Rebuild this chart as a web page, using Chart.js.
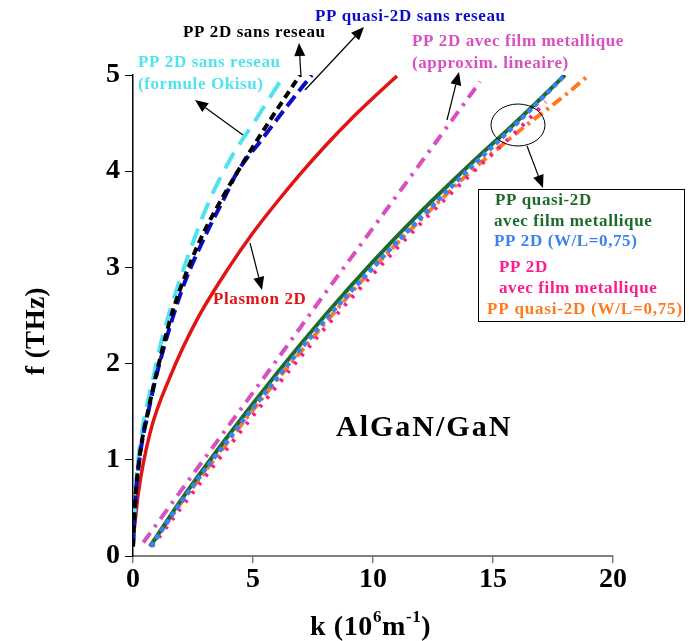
<!DOCTYPE html>
<html>
<head>
<meta charset="utf-8">
<script src="https://cdn.jsdelivr.net/npm/chart.js@4/dist/chart.umd.min.js"></script>
<style>
  body { margin: 0; background: #fff; }
  #wrap { width: 689px; height: 641px; }
</style>
</head>
<body>
<div id="wrap"><canvas id="chart" width="689" height="641"></canvas></div>
<script>
// k in 10^6 m^-1, f in THz
const kCyan = [0, 0.08, 0.2, 0.43, 0.8, 1.2, 1.82, 2.44, 3.14, 4.04, 5.15, 6.3];
const fCyan = [0.1, 0.55, 0.95, 1.38, 1.8, 2.25, 2.77, 3.22, 3.67, 4.12, 4.55, 5.0];

const kBlack = [0, 0.1, 0.3, 0.64, 1.0, 1.54, 1.96, 2.79, 3.83, 4.74, 5.71, 6.96];
const fBlack = [0.1, 0.6, 1.08, 1.52, 1.92, 2.45, 2.77, 3.28, 3.77, 4.15, 4.53, 5.0];

const kBlue = [0, 0.1, 0.3, 0.64, 1.0, 2.0, 2.9, 3.9, 4.32, 5.43, 6.4, 7.45];
const fBlue = [0.1, 0.58, 1.06, 1.5, 1.9, 2.74, 3.27, 3.77, 3.98, 4.35, 4.67, 5.0];

const kRed = [0, 0.22, 0.71, 1.54, 2.65, 4, 5, 6, 7, 8, 9, 10, 11];
const fRed = [0.15, 0.65, 1.28, 1.86, 2.45, 3.0, 3.36, 3.68, 3.98, 4.26, 4.52, 4.76, 4.99];

const kLin = [0.43, 2, 4, 6, 8, 10, 12, 14.46];
const fLin = [0.14, 0.68, 1.36, 2.04, 2.73, 3.41, 4.09, 4.93];

const kGreen = [0.71, 2, 4, 6, 8, 10, 12, 14, 16, 18];
const fGreen = [0.1, 0.58, 1.26, 1.9, 2.5, 3.06, 3.58, 4.06, 4.52, 5.0];

const kWL = [0.75, 2, 4, 6, 8, 10, 12, 14, 16, 18];
const fWL = [0.1, 0.56, 1.22, 1.85, 2.45, 3.0, 3.52, 4.02, 4.5, 5.0];

const kPink = [0.8, 2, 4, 6, 8, 10, 12, 14, 16, 17.2];
const fPink = [0.1, 0.5, 1.14, 1.77, 2.37, 2.93, 3.46, 3.95, 4.42, 4.72];

const kOrange = [0.7, 2, 4, 6, 8, 10, 12, 14, 16, 18, 19];
const fOrange = [0.1, 0.55, 1.2, 1.83, 2.42, 2.99, 3.5, 3.98, 4.4, 4.79, 5.0];

const xTicks = [0, 5, 10, 15, 20];
const yTicks = [0, 1, 2, 3, 4, 5];

const pts = (ks, fs) => ks.map((k, i) => ({ x: k, y: fs[i] }));

const FONT = '"Liberation Serif", "DejaVu Serif", serif';

function line(data, color, width, dash) {
    return {
        data: data,
        borderColor: color,
        borderWidth: width,
        borderDash: dash,
        borderCapStyle: 'butt',
        pointRadius: 0,
        fill: false,
        cubicInterpolationMode: 'monotone'
    };
}

function arrow(ctx, x1, y1, x2, y2) {
    const a = Math.atan2(y2 - y1, x2 - x1);
    const len = 13, hw = 5.5;
    ctx.beginPath();
    ctx.moveTo(x1, y1);
    ctx.lineTo(x2 - len * Math.cos(a), y2 - len * Math.sin(a));
    ctx.lineWidth = 1.2;
    ctx.strokeStyle = '#000';
    ctx.stroke();
    ctx.beginPath();
    ctx.moveTo(x2, y2);
    ctx.lineTo(x2 - len * Math.cos(a) + hw * Math.sin(a), y2 - len * Math.sin(a) - hw * Math.cos(a));
    ctx.lineTo(x2 - len * Math.cos(a) - hw * Math.sin(a), y2 - len * Math.sin(a) + hw * Math.cos(a));
    ctx.closePath();
    ctx.fillStyle = '#000';
    ctx.fill();
}

const notes = {
    id: 'notes',
    afterDatasetsDraw(chart) {
        const ctx = chart.ctx;
        ctx.save();
        ctx.textBaseline = 'middle';
        ctx.textAlign = 'left';

        const txt = (s, x, y, color, size, sp) => {
            ctx.font = 'bold ' + (size || 17) + 'px ' + FONT;
            ctx.letterSpacing = (sp === undefined ? 0.6 : sp) + 'px';
            ctx.fillStyle = color;
            ctx.fillText(s, x, y);
        };

        txt('PP quasi-2D sans reseau', 315, 17, '#0b0bc8');
        txt('PP 2D sans reseau', 183, 33, '#000');
        txt('PP 2D sans reseau', 138, 63, '#4fe3f0');
        txt('(formule Okisu)', 138, 85, '#4fe3f0');
        txt('PP 2D avec film metallique', 412, 42, '#d94fc2');
        txt('(approxim. lineaire)', 412, 64, '#d94fc2');
        txt('Plasmon 2D', 213, 300, '#e01414');
        txt('AlGaN/GaN', 336, 428, '#000', 30, 2);

        // legend box
        ctx.lineWidth = 1;
        ctx.strokeStyle = '#000';
        ctx.strokeRect(478.5, 189.5, 206, 132);
        txt('PP quasi-2D', 495, 201, '#1c6b2a');
        txt('avec film metallique', 494, 222, '#1c6b2a');
        txt('PP 2D (W/L=0,75)', 494, 242, '#3b82f0');
        txt('PP 2D', 499, 268, '#ff1a8c');
        txt('avec film metallique', 499, 289, '#ff1a8c');
        txt('PP quasi-2D (W/L=0,75)', 487, 310, '#ff7a1a', 17, 0.8);

        // ellipse around the bundle
        ctx.beginPath();
        ctx.ellipse(518, 125, 27, 21, 0, 0, Math.PI * 2);
        ctx.lineWidth = 1;
        ctx.strokeStyle = '#000';
        ctx.stroke();

        arrow(ctx, 301, 77, 299, 43);
        arrow(ctx, 305, 90, 364, 27);
        arrow(ctx, 243, 135, 195, 100);
        arrow(ctx, 447, 120, 459, 72);
        arrow(ctx, 250, 243, 262, 290);
        arrow(ctx, 527, 146, 543, 188);

        // y axis title
        ctx.letterSpacing = '0.5px';
        ctx.save();
        ctx.translate(37, 331);
        ctx.rotate(-Math.PI / 2);
        ctx.textAlign = 'center';
        ctx.font = 'bold 27px ' + FONT;
        ctx.fillStyle = '#000';
        ctx.fillText('f (THz)', 0, 0);
        ctx.restore();

        // x axis title with superscripts
        ctx.fillStyle = '#000';
        ctx.textBaseline = 'alphabetic';
        ctx.letterSpacing = '0.6px';
        let x = 310;
        const base = 635;
        const big = 'bold 28px ' + FONT, small = 'bold 17px ' + FONT;
        const part = (s, f, dy) => {
            ctx.font = f;
            ctx.fillText(s, x, base + dy);
            x += ctx.measureText(s).width;
        };
        part('k (10', big, 0);
        part('6', small, -13);
        part('m', big, 0);
        part('-1', small, -13);
        part(')', big, 0);
        ctx.restore();
    }
};

new Chart(document.getElementById('chart'), {
    type: 'line',
    data: {
        datasets: [
            line(pts(kWL, fWL), '#3b82f0', 4.5, [5, 4]),
            line(pts(kGreen, fGreen), '#1c6b2a', 4, []),
            line(pts(kPink, fPink), '#ff1a8c', 4, [3, 8]),
            line(pts(kOrange, fOrange), '#ff7a1a', 4, [11, 5, 3, 5]),
            line(pts(kLin, fLin), '#d94fc2', 4, [12, 7, 3, 7]),
            line(pts(kBlack, fBlack), '#000000', 4, [8, 5]),
            line(pts(kBlue, fBlue), '#0b0bc8', 4, [13, 6]),
            line(pts(kCyan, fCyan), '#4fe3f0', 4, [18, 10]),
            line(pts(kRed, fRed), '#e01414', 3.5, [])
        ]
    },
    options: {
        responsive: false,
        animation: false,
        layout: { padding: { top: 75, right: 76, left: 0, bottom: 0 } },
        plugins: { legend: { display: false }, tooltip: { enabled: false } },
        scales: {
            x: {
                type: 'linear',
                min: 0,
                max: 20,
                afterFit: s => { s.height = 85; },
                afterBuildTicks: s => { s.ticks = xTicks.map(v => ({ value: v })); },
                grid: { drawOnChartArea: false, tickLength: 7, color: '#808080', lineWidth: 1.5 },
                border: { color: '#808080', width: 2 },
                ticks: { color: '#000', font: { family: FONT, size: 28, weight: 'bold' }, padding: 0, maxRotation: 0 }
            },
            y: {
                type: 'linear',
                min: 0,
                max: 5,
                afterFit: s => { s.width = 133; },
                afterBuildTicks: s => { s.ticks = yTicks.map(v => ({ value: v })); },
                grid: { drawOnChartArea: false, tickLength: 8, color: '#000', lineWidth: 1 },
                border: { color: '#000', width: 1.5 },
                ticks: { color: '#000', font: { family: FONT, size: 28, weight: 'bold' }, padding: 5 }
            }
        }
    },
    plugins: [notes]
});
</script>
</body>
</html>
